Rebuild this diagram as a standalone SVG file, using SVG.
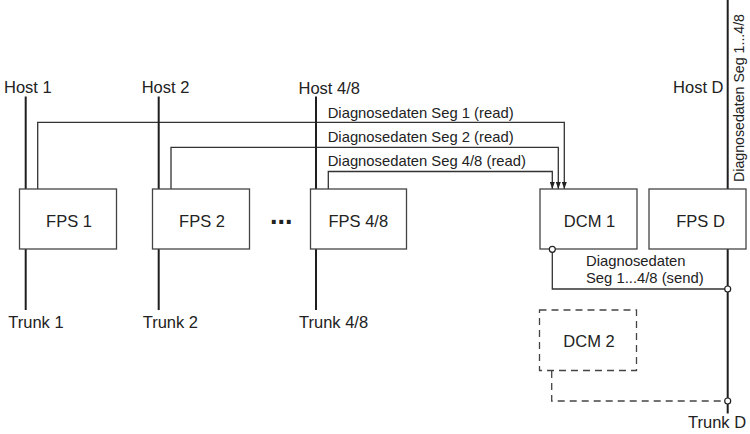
<svg xmlns="http://www.w3.org/2000/svg" width="750" height="434" viewBox="0 0 750 434">
<defs>
<style>
text{font-family:"Liberation Sans",Arial,sans-serif;fill:#222}
.lbl{font-size:16.5px}
.mid{text-anchor:middle}
.dg{font-size:14.8px}
.box{fill:#fff;stroke:#444;stroke-width:1.3}
.dbox{fill:none;stroke:#444;stroke-width:1.3;stroke-dasharray:7 5}
.bus{fill:none;stroke:#1e1e1e;stroke-width:2}
.con{fill:none;stroke:#333;stroke-width:1.3}
.dcon{fill:none;stroke:#444;stroke-width:1.3;stroke-dasharray:7 5}
.pt{fill:#fff;stroke:#222;stroke-width:1.2}
</style>
<marker id="arr" viewBox="0 0 7 5" refX="7" refY="2.5" markerWidth="7" markerHeight="5" markerUnits="userSpaceOnUse" orient="auto">
<path d="M0,0 L7,2.5 L0,5 z" fill="#222"/>
</marker>
</defs>
<rect width="750" height="434" fill="#fff"/>

<g id="connectors">
<path class="con" d="M37.7 189 V122.3 H564.3 V189" marker-end="url(#arr)"/>
<path class="con" d="M171 189 V147.3 H558.3 V189" marker-end="url(#arr)"/>
<path class="con" d="M328.3 189 V171.5 H552.3 V189" marker-end="url(#arr)"/>
<path class="bus" d="M25.7 96.5 V189 M25.7 249 V310"/>
<path class="bus" d="M158.7 96.5 V189 M158.7 249 V310"/>
<path class="bus" d="M316 96.5 V189 M316 249 V310"/>
<path class="bus" d="M727.7 0 V189 M727.7 249 V413.5"/>
<path class="con" d="M552.3 252 V289 H725"/>
<path class="dcon" d="M551.7 371 V401 H725"/>
<circle class="pt" cx="727.7" cy="289" r="3"/>
<circle class="pt" cx="727.7" cy="401" r="3"/>
<text class="dg" x="327.7" y="118">Diagnosedaten Seg 1 (read)</text>
<text class="dg" x="327.7" y="141.8">Diagnosedaten Seg 2 (read)</text>
<text class="dg" x="327.7" y="166">Diagnosedaten Seg 4/8 (read)</text>
<text class="dg" x="586" y="265.5">Diagnosedaten</text>
<text class="dg" x="586" y="282.5">Seg 1...4/8 (send)</text>
<text class="dg" style="font-size:14.2px" transform="translate(743.5,182) rotate(-90)">Diagnosedaten Seg 1...4/8</text>
</g>

<g id="host1"><text class="lbl" x="4" y="93">Host 1</text></g>
<g id="host2"><text class="lbl" x="141.7" y="93">Host 2</text></g>
<g id="host48"><text class="lbl" x="298.5" y="93.5">Host 4/8</text></g>
<g id="hostD"><text class="lbl" x="723.5" y="93" text-anchor="end">Host D</text></g>

<g id="fps1"><rect class="box" x="19.5" y="189" width="97" height="60"/><text class="lbl mid" x="69" y="226.5">FPS 1</text></g>
<g id="fps2"><rect class="box" x="152.5" y="189" width="97" height="60"/><text class="lbl mid" x="202" y="226.5">FPS 2</text></g>
<g id="ellipsis"><text x="270" y="223.5" style="font-size:27px;font-weight:bold">...</text></g>
<g id="fps48"><rect class="box" x="310.5" y="189" width="96" height="60"/><text class="lbl mid" x="358.3" y="226.5">FPS 4/8</text></g>
<g id="dcm1"><rect class="box" x="540" y="189" width="97" height="60"/><text class="lbl mid" x="589.5" y="226.5">DCM 1</text><circle class="pt" cx="552.3" cy="249.3" r="3"/></g>
<g id="fpsD"><rect class="box" x="649" y="189" width="97" height="60"/><text class="lbl mid" x="700.5" y="226.5">FPS D</text></g>
<g id="dcm2"><rect class="dbox" x="539.5" y="310" width="97" height="60.5"/><text class="lbl mid" x="589" y="347">DCM 2</text></g>

<g id="trunk1"><text class="lbl" x="8.3" y="327.5">Trunk 1</text></g>
<g id="trunk2"><text class="lbl" x="142.7" y="327.5">Trunk 2</text></g>
<g id="trunk48"><text class="lbl" x="299" y="327.5">Trunk 4/8</text></g>
<g id="trunkD"><text class="lbl" x="688" y="428">Trunk D</text></g>
</svg>
